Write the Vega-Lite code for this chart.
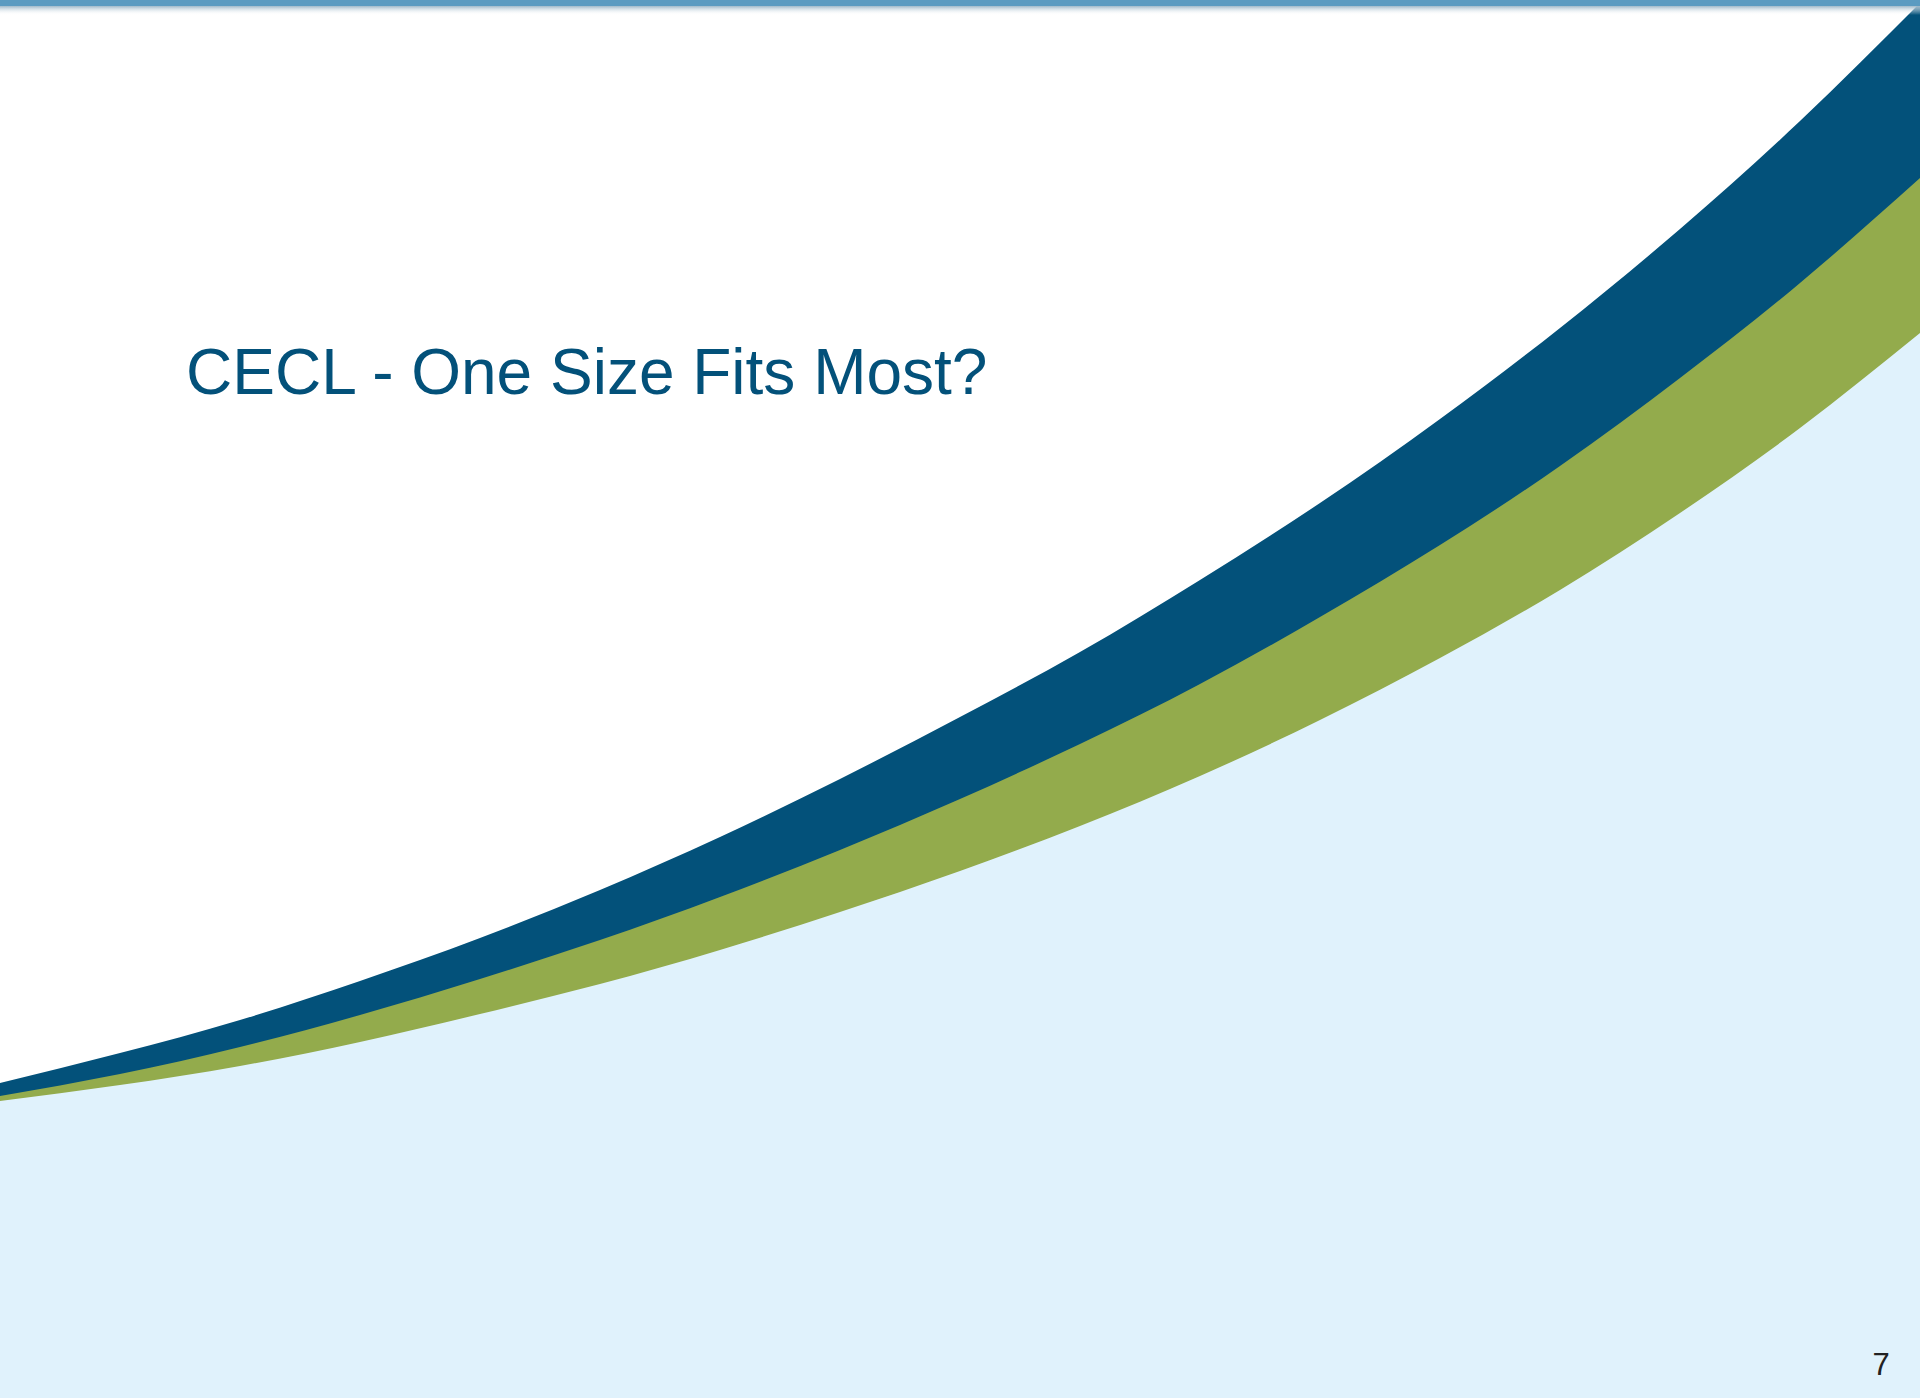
{
  "$schema": "https://vega.github.io/schema/vega-lite/v6.json",
  "width": 1920,
  "height": 1398,
  "autosize": {"type": "fit", "contains": "padding"},
  "padding": 0,
  "background": "#FFFFFF",
  "config": {"view": {"stroke": null}},
  "datasets": {
    "curves": [
      {"x": 0, "top": 1083, "mid": 1096, "bot": 1101},
      {"x": 120, "top": 1053, "mid": 1074, "bot": 1085},
      {"x": 240, "top": 1020, "mid": 1047, "bot": 1066},
      {"x": 360, "top": 981, "mid": 1015, "bot": 1042},
      {"x": 480, "top": 938, "mid": 979, "bot": 1014},
      {"x": 600, "top": 890, "mid": 940, "bot": 984},
      {"x": 720, "top": 837, "mid": 897, "bot": 950},
      {"x": 840, "top": 779, "mid": 850, "bot": 912},
      {"x": 960, "top": 717, "mid": 799, "bot": 871},
      {"x": 1080, "top": 652, "mid": 744, "bot": 826},
      {"x": 1200, "top": 580, "mid": 684, "bot": 776},
      {"x": 1320, "top": 503, "mid": 617, "bot": 720},
      {"x": 1440, "top": 419, "mid": 545, "bot": 658},
      {"x": 1560, "top": 328, "mid": 466, "bot": 590},
      {"x": 1680, "top": 229, "mid": 378, "bot": 513},
      {"x": 1800, "top": 121, "mid": 283, "bot": 428},
      {"x": 1920, "top": 3, "mid": 178, "bot": 333}
    ]
  },
  "layer": [
    {
      "data": {"name": "curves"},
      "mark": {"type": "area", "interpolate": "natural", "color": "#03517A"},
      "encoding": {
        "x": {"field": "x", "type": "quantitative", "scale": {"domain": [0, 1920], "nice": false, "zero": false}, "axis": null},
        "y": {"field": "top", "type": "quantitative", "scale": {"domain": [0, 1398], "reverse": true, "nice": false, "zero": false}, "axis": null},
        "y2": {"datum": 1398}
      }
    },
    {
      "data": {"name": "curves"},
      "mark": {"type": "area", "interpolate": "natural", "color": "#93AB4C"},
      "encoding": {
        "x": {"field": "x", "type": "quantitative"},
        "y": {"field": "mid", "type": "quantitative"},
        "y2": {"datum": 1398}
      }
    },
    {
      "data": {"name": "curves"},
      "mark": {"type": "area", "interpolate": "natural", "color": "#E0F2FC"},
      "encoding": {
        "x": {"field": "x", "type": "quantitative"},
        "y": {"field": "bot", "type": "quantitative"},
        "y2": {"datum": 1398}
      }
    },
    {
      "data": {"values": [{"part": "shadow"}]},
      "mark": {
        "type": "rect",
        "color": {
          "gradient": "linear", "x1": 0, "y1": 0, "x2": 0, "y2": 1,
          "stops": [
            {"offset": 0, "color": "#9FB9CA"},
            {"offset": 1, "color": "rgba(255,255,255,0)"}
          ]
        }
      },
      "encoding": {
        "x": {"datum": 0, "type": "quantitative"},
        "x2": {"datum": 1920},
        "y": {"datum": 6, "type": "quantitative"},
        "y2": {"datum": 15}
      }
    },
    {
      "data": {"values": [{"part": "bar"}]},
      "mark": {"type": "rect", "color": "#5B9BC1"},
      "encoding": {
        "x": {"datum": 0, "type": "quantitative"},
        "x2": {"datum": 1920},
        "y": {"datum": 0, "type": "quantitative"},
        "y2": {"datum": 6}
      }
    },
    {
      "data": {"values": [{"label": "CECL - One Size Fits Most?"}]},
      "mark": {"type": "text", "align": "left", "baseline": "alphabetic", "font": "Liberation Sans", "fontSize": 64, "color": "#03517A"},
      "encoding": {
        "x": {"datum": 186, "type": "quantitative"},
        "y": {"datum": 394, "type": "quantitative"},
        "text": {"field": "label"}
      }
    },
    {
      "data": {"values": [{"label": "7"}]},
      "mark": {"type": "text", "align": "center", "baseline": "alphabetic", "font": "Liberation Sans", "fontSize": 31, "color": "#222222"},
      "encoding": {
        "x": {"datum": 1881, "type": "quantitative"},
        "y": {"datum": 1375, "type": "quantitative"},
        "text": {"field": "label"}
      }
    }
  ]
}
